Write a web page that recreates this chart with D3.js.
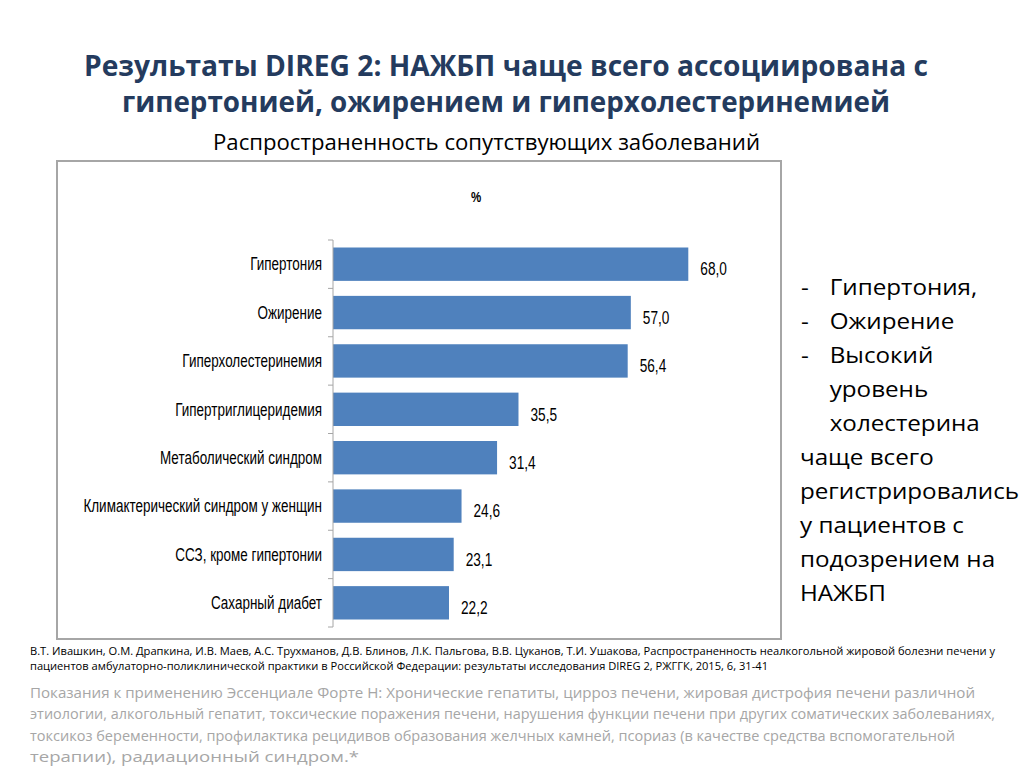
<!DOCTYPE html>
<html><head><meta charset="utf-8">
<script src="https://cdn.jsdelivr.net/npm/d3@7"></script>
<style>body{margin:0;background:#fff}svg{display:block}</style>
</head><body>
<svg id="c" width="1024" height="767"></svg>
<script>
const categories = ["Гипертония","Ожирение","Гиперхолестеринемия","Гипертриглицеридемия","Метаболический синдром","Климактерический синдром у женщин","ССЗ, кроме гипертонии","Сахарный диабет"];
const values = [68.0, 57.0, 56.4, 35.5, 31.4, 24.6, 23.1, 22.2];
const titleLines = ["Результаты DIREG 2: НАЖБП чаще всего ассоциирована с","гипертонией, ожирением и гиперхолестеринемией"];
const subtitle = "Распространенность сопутствующих заболеваний";
const unitLabel = "%";
const sideText = [["-","Гипертония,"],["-","Ожирение"],["-","Высокий"],["","уровень"],["","холестерина"],[null,"чаще всего"],[null,"регистрировались"],[null,"у пациентов с"],[null,"подозрением на"],[null,"НАЖБП"]];
const refLines = ["В.Т. Ивашкин, О.М. Драпкина, И.В. Маев, А.С. Трухманов, Д.В. Блинов, Л.К. Пальгова, В.В. Цуканов, Т.И. Ушакова, Распространенность неалкогольной жировой болезни печени у","пациентов амбулаторно-поликлинической практики в Российской Федерации: результаты исследования DIREG 2, РЖГГК, 2015, 6, 31-41"];
const noteLines = ["Показания к применению Эссенциале Форте Н: Хронические гепатиты, цирроз печени, жировая дистрофия печени различной","этиологии, алкогольный гепатит, токсические поражения печени, нарушения функции печени при других соматических заболеваниях,","токсикоз беременности, профилактика рецидивов образования желчных камней, псориаз (в качестве средства вспомогательной","терапии), радиационный синдром.*"];

const svg = d3.select("#c");
const sans = "'Open Sans','Noto Sans','Liberation Sans',sans-serif";
const narrow = "'Liberation Sans',Arial,sans-serif";

function fitText(sel, w){ sel.attr("textLength", w).attr("lengthAdjust","spacingAndGlyphs"); }
function condense(sel, f){ sel.each(function(){ const w=this.getComputedTextLength(); d3.select(this).attr("textLength", w*f).attr("lengthAdjust","spacingAndGlyphs"); }); }

// Title
const tW = [844, 768], tX = [84, 122], tY = [76, 112];
titleLines.forEach((t,i)=>{
  svg.append("text").attr("x",tX[i]).attr("y",tY[i]).attr("font-family",sans).attr("font-weight","bold")
    .attr("font-size",29).attr("fill","#243b5e").text(t).call(fitText,tW[i]);
});
svg.append("text").attr("x",213).attr("y",150).attr("font-family",sans).attr("font-size",21)
  .attr("fill","#000").text(subtitle).call(fitText,547);

// Chart box
svg.append("rect").attr("x",57).attr("y",161).attr("width",724).attr("height",478)
  .attr("fill","#fff").attr("stroke","#a6a6a6").attr("stroke-width",2);

svg.append("text").attr("x",476).attr("y",202).attr("text-anchor","middle").attr("font-family",narrow)
  .attr("font-size",14).attr("font-weight","bold").attr("fill","#000").text(unitLabel).call(condense,0.82);

const x = d3.scaleLinear().domain([0,80]).range([333,751]);
const y = d3.scaleBand().domain(categories).range([240,627]).paddingInner(0.31).paddingOuter(0.155);

svg.append("g").selectAll("rect").data(categories).join("rect")
  .attr("x",x(0)).attr("y",d=>y(d)).attr("height",y.bandwidth())
  .attr("width",(d,i)=>x(values[i])-x(0)).attr("fill","#4f81bd");

// Axis line with ticks at band boundaries
const step = y.step();
const bounds = d3.range(categories.length+1).map(i=>240+i*step);
const ax = svg.append("g");
ax.append("line").attr("x1",x(0)).attr("x2",x(0)).attr("y1",240).attr("y2",627).attr("stroke","#a6a6a6").attr("stroke-width",1);
ax.selectAll("line.t").data(bounds).join("line").attr("class","t")
  .attr("x1",x(0)-5).attr("x2",x(0)).attr("y1",d=>d).attr("y2",d=>d).attr("stroke","#a6a6a6");

// category labels
svg.append("g").selectAll("text").data(categories).join("text")
  .attr("x",322).attr("y",d=>y(d)+y.bandwidth()/2).attr("dy","0.36em").attr("text-anchor","end")
  .attr("font-family",narrow).attr("font-size",17.5).attr("fill","#000").text(d=>d).call(condense,0.77);

// value labels
svg.append("g").selectAll("text").data(values).join("text")
  .attr("x",d=>x(d)+12).attr("y",(d,i)=>y(categories[i])+y.bandwidth()/2+5).attr("dy","0.36em")
  .attr("font-family",narrow).attr("font-size",17.5).attr("fill","#000")
  .text(d=>d3.format(".1f")(d).replace(".",",")).call(condense,0.78);

// side text
const side = svg.append("g").attr("transform","translate(800,0) scale(1.1,1)");
sideText.forEach((l,i)=>{
  const by = 295 + i*34;
  if(l[0]) side.append("text").attr("x",1).attr("y",by).attr("font-family",sans).attr("font-size",22).attr("fill","#000").text(l[0]);
  side.append("text").attr("x", l[0]===null?0:27).attr("y",by).attr("font-family",sans).attr("font-size",22).attr("fill","#000").text(l[1]);
});

// references
const rW=[965,738];
refLines.forEach((t,i)=>{
  svg.append("text").attr("x",30).attr("y",655+i*15).attr("font-family",sans).attr("font-size",10.5).attr("fill","#000").text(t).call(fitText,rW[i]);
});
const nW=[945,965,925,329];
noteLines.forEach((t,i)=>{
  svg.append("text").attr("x",30).attr("y",698+i*21.3).attr("font-family",sans).attr("font-size",14.8).attr("fill","#a6a6a6").text(t).call(fitText,nW[i]);
});
</script>
</body></html>
